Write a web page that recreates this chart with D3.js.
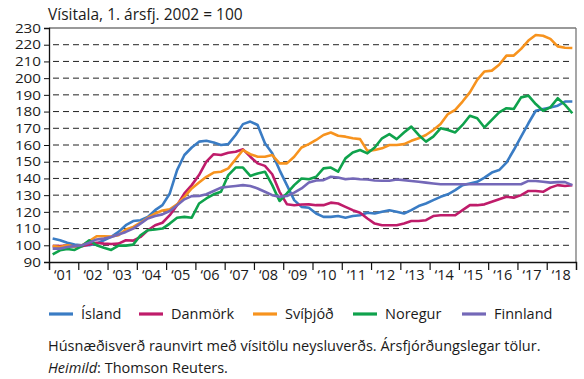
<!DOCTYPE html>
<html>
<head>
<meta charset="utf-8">
<script src="https://cdn.jsdelivr.net/npm/d3@7"></script>
<style>
  html, body { margin: 0; padding: 0; background: #fff; }
  svg { display: block; font-family: "Open Sans", "Noto Sans", sans-serif; }
</style>
</head>
<body>
<svg id="chart" width="584" height="379"></svg>
<script>
// Quarterly real house price index, 1st quarter 2002 = 100 (2001Q1 – 2018Q4)
const firstYear = 2001;
const lastYear = 2018;
const yTicks = [90, 100, 110, 120, 130, 140, 150, 160, 170, 180, 190, 200, 210, 220, 230];
const yearLabels = ["‘01","‘02","‘03","‘04","‘05","‘06","‘07","‘08","‘09","‘10","‘11","‘12","‘13","‘14","‘15","‘16","‘17","‘18"];

const seriesNames = ["Ísland", "Danmörk", "Svíþjóð", "Noregur", "Finnland"];
const seriesColors = ["#3a7cc4", "#bf1c6a", "#f7931e", "#0fa24c", "#7468b8"];

const island = [
  104, 103, 101.5, 100.5,   100, 100, 101, 103,   105, 108, 112, 114.5,   115, 117, 121, 124,
  131, 145, 154, 158.5,     162, 162.5, 161.5, 160,  160.5, 166, 172.5, 174,  172, 161, 155, 145,
  136, 127, 123, 122.5,     119, 117, 117, 117.5,   116.5, 117.5, 118, 119.5,  119, 120, 121, 120,
  119, 121, 123.5, 125,     127, 129, 130.5, 133,   136, 137, 138, 140.5,   143.5, 145, 149.5, 157,
  165, 173, 180.5, 181.5,   182.5, 183.5, 186, 186
];
const danmork = [
  99.5, 99.5, 99.8, 99.3,   99.5, 100.5, 101.5, 101,   100.8, 101, 103, 102.8,   105, 109, 112, 113.5,
  118, 124, 131, 136,       142, 150, 154.5, 154,   155.4, 156, 157.4, 153,   149, 147.5, 142.5, 132,
  124.6, 124, 124.4, 124.5, 124, 124, 125.5, 125,   123, 121, 119.5, 116,   113, 112, 112, 112,
  113, 114.5, 114.5, 115,   117.5, 118, 118, 118,   121, 124, 124, 124.5,   126, 127.5, 129, 128.5,
  130, 132.5, 132.5, 132,   134.5, 136, 135.5, 136
];
const svithjod = [
  99.6, 99, 100, 99.2,      100, 102.5, 105.4, 105.4,   105.2, 106, 109.5, 111,   113.5, 116.5, 119, 120.8,
  121.5, 124.5, 129, 134,   137.5, 141, 143.5, 144,   146, 151.5, 157, 154.5,   153, 153, 154, 149,
  149, 153, 158.5, 160.5,   163, 166, 167.5, 165.5,   165, 164, 163.5, 156.5,   157, 158, 160, 160,
  160.5, 162.5, 164, 166,   169, 172.5, 178.5, 181,   186, 191.5, 199, 204,   204.5, 208, 213.5, 213.5,
  217.5, 222.5, 225.8, 225.4, 223.5, 219, 218.2, 218
];
const noregur = [
  94.5, 97, 97.8, 97.2,     99.5, 103, 100, 98.5,   97.2, 99.8, 99.8, 100.4,   106, 109, 109.4, 110,
  113, 116.5, 117, 116.5,   125, 128, 130.5, 132,   142, 146.5, 146.5, 141.5,   143, 144, 136, 126.5,
  131, 136, 140, 139.5,     141, 146, 146.5, 144,   152, 155.5, 157, 155,   158.5, 164, 166.5, 163.5,
  167.5, 171, 166, 162,     165, 170, 169, 167.5,   172, 177.5, 176, 170.5,   175, 179.5, 182, 181.5,
  188.5, 189.5, 184.5, 180.5, 182.5, 188, 184, 179
];
const finnland = [
  98, 98, 99, 99.5,         100, 101.5, 103.5, 104,   105, 106.5, 108, 110,   113, 116, 117.5, 118.5,
  120.5, 124, 127.5, 129.4, 129.5, 130.5, 132.5, 134.5,   135, 135.5, 136, 135.5,   134, 132, 130, 129,
  129.5, 131.5, 134, 137.5, 138.8, 139, 141, 140.5,   139.5, 140, 139.5, 139.4,   138.8, 138.6, 138.6, 139.4,
  139, 138.5, 138, 137.5,   137, 136.5, 136.5, 136.5,   136.5, 136.5, 136.5, 136.5,   136.5, 136.5, 136.5, 136.5,
  136.5, 138.5, 138.5, 138, 137.5, 137.8, 137.8, 136
];
const seriesValues = [island, danmork, svithjod, noregur, finnland];

const titleText = "Vísitala, 1. ársfj. 2002 = 100";
const noteText = "Húsnæðisverð raunvirt með vísitölu neysluverðs. Ársfjórðungslegar tölur.";
const sourceLabel = "Heimild";
const sourceText = ": Thomson Reuters.";

// ---- layout ----
const svg = d3.select("#chart");
const plot = { left: 49, right: 576, top: 28, bottom: 262 };
const textColor = "#1a1a1a";

const x = d3.scaleLinear().domain([firstYear, lastYear + 1]).range([plot.left, plot.right]);
const y = d3.scaleLinear().domain([90, 230]).range([plot.bottom, plot.top]);

// quarter midpoints
const quarterX = i => x(firstYear + (i + 0.5) / 4);

// dashed grid lines
svg.append("g")
  .selectAll("line")
  .data(yTicks.filter(v => v > 90 && v < 230))
  .join("line")
  .attr("x1", plot.left + 4).attr("x2", plot.right - 3)
  .attr("y1", d => y(d)).attr("y2", d => y(d))
  .attr("stroke", "#222").attr("stroke-width", 1)
  .attr("stroke-dasharray", "6,4");

// frame: top and right in grey
svg.append("line").attr("x1", plot.left).attr("x2", plot.right).attr("y1", plot.top).attr("y2", plot.top)
  .attr("stroke", "#777").attr("stroke-width", 1.3);
svg.append("line").attr("x1", plot.right).attr("x2", plot.right).attr("y1", plot.top).attr("y2", plot.bottom)
  .attr("stroke", "#777").attr("stroke-width", 1.3);

// y axis (wide tabular digits: compact size, stretched to width)
const yAxis = svg.append("g")
  .attr("transform", `translate(${plot.left},0)`)
  .call(d3.axisLeft(y).tickValues(yTicks).tickSize(5).tickPadding(3).tickFormat(d3.format("d")));
yAxis.select(".domain").attr("stroke", "#111").attr("stroke-width", 1.3);
yAxis.selectAll(".tick line").attr("stroke", "#111");
yAxis.selectAll(".tick text")
  .attr("fill", textColor)
  .attr("dy", "0.34em")
  .style("font-family", "'Open Sans', sans-serif")
  .style("font-size", "12.2px")
  .attr("textLength", d => String(d).length * 8.7)
  .attr("lengthAdjust", "spacingAndGlyphs");
yAxis.selectAll(".tick").filter(d => d === 230).select("line").remove();

// x axis: ticks at year boundaries, labels centred in each year
const yearEdges = d3.range(firstYear, lastYear + 2);
const xAxis = svg.append("g")
  .attr("transform", `translate(0,${plot.bottom})`)
  .call(d3.axisBottom(x).tickValues(yearEdges).tickSize(8).tickFormat(""));
xAxis.select(".domain").attr("stroke", "#111").attr("stroke-width", 1.3);
xAxis.selectAll(".tick line").attr("stroke", "#111").attr("stroke-width", 1.2);

svg.append("g")
  .selectAll("text")
  .data(yearLabels)
  .join("text")
  .attr("x", (d, i) => x(firstYear + i + 0.5))
  .attr("y", plot.bottom + 18)
  .attr("text-anchor", "middle")
  .attr("fill", textColor)
  .style("font-size", "14.5px")
  .text(d => d);

// title
svg.append("text")
  .attr("x", 48).attr("y", 19.5)
  .attr("fill", textColor)
  .style("font-size", "15.5px")
  .text(titleText);

// lines
const line = d3.line()
  .x((d, i) => quarterX(i))
  .y(d => y(d))
  .curve(d3.curveLinear);

svg.append("g")
  .selectAll("path")
  .data(seriesValues)
  .join("path")
  .attr("d", d => line(d))
  .attr("fill", "none")
  .attr("stroke", (d, i) => seriesColors[i])
  .attr("stroke-width", 2.6)
  .attr("stroke-linejoin", "round");

// legend
const legendX = [49, 139, 253, 353, 462];
const legend = svg.append("g")
  .selectAll("g")
  .data(seriesNames)
  .join("g")
  .attr("transform", (d, i) => `translate(${legendX[i]},314)`);
legend.append("line")
  .attr("x1", 0).attr("x2", 24)
  .attr("stroke", (d, i) => seriesColors[i])
  .attr("stroke-width", 3.2);
legend.append("text")
  .attr("x", 32).attr("y", 5)
  .attr("fill", textColor)
  .style("font-size", "14.5px")
  .text(d => d);

// footnotes
svg.append("text")
  .attr("x", 48).attr("y", 351)
  .attr("fill", textColor)
  .style("font-size", "14.5px")
  .text(noteText);
const src = svg.append("text")
  .attr("x", 48).attr("y", 373)
  .attr("fill", textColor)
  .style("font-size", "14.5px");
src.append("tspan").style("font-style", "italic").text(sourceLabel);
src.append("tspan").text(sourceText);
</script>
</body>
</html>
